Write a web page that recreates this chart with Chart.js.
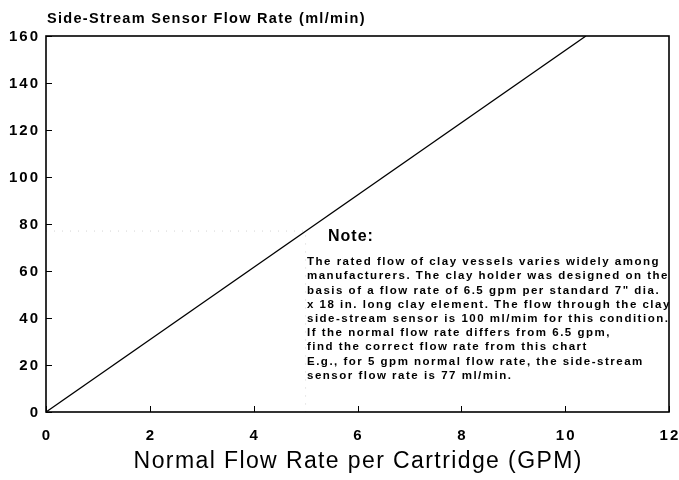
<!DOCTYPE html>
<html>
<head>
<meta charset="utf-8">
<script src="https://cdn.jsdelivr.net/npm/chart.js@4"></script>
<style>
  html, body { margin: 0; padding: 0; background: #fff; }
  #wrap { width: 679px; height: 480px; }
</style>
</head>
<body>
<div id="wrap"><canvas id="chart" width="679" height="480"></canvas></div>
<script>
// flow rate line (gpm -> ml/min)
const gpm = [0, 10.4];
const sensorFlow = [0, 160];
// faint guide for the 5 gpm example
const guideX = [0, 5, 5];
const guideY = [77, 77, 0];
const xTicks = [0, 2, 4, 6, 8, 10, 12];
const yTicks = [0, 20, 40, 60, 80, 100, 120, 140, 160];

const yTitle = 'Side-Stream Sensor Flow Rate (ml/min)';
const xTitle = 'Normal Flow Rate per Cartridge (GPM)';
const noteHead = 'Note:';
const noteLines = [
  'The rated flow of clay vessels varies widely among',
  'manufacturers. The clay holder was designed on the',
  'basis of a flow rate of 6.5 gpm per standard 7" dia.',
  'x 18 in. long clay element. The flow through the clay',
  'side-stream sensor is 100 ml/mim for this condition.',
  'If the normal flow rate differs from 6.5 gpm,',
  'find the correct flow rate from this chart',
  'E.g., for 5 gpm normal flow rate, the side-stream',
  'sensor flow rate is 77 ml/min.'
];

const FONT = '"Liberation Sans", Arial, Helvetica, sans-serif';

// draws text with letter spacing; right/center aware
function spaced(ctx, text, x, y, sp, align) {
  ctx.letterSpacing = sp + 'px';
  const w = ctx.measureText(text).width - sp;
  let x0 = x;
  if (align === 'right') x0 = x - w;
  else if (align === 'center') x0 = x - w / 2;
  ctx.textAlign = 'left';
  ctx.fillText(text, x0, y);
}

// frame, inward ticks, labels and text
const decor = {
  id: 'decor',
  afterDraw(chart) {
    const { ctx, chartArea: a, scales } = chart;
    ctx.save();
    ctx.strokeStyle = '#000';
    ctx.lineWidth = 1.6;
    ctx.strokeRect(a.left, a.top, a.right - a.left, a.bottom - a.top);
    ctx.lineWidth = 1;
    ctx.beginPath();
    xTicks.forEach(v => {
      const px = Math.round(scales.x.getPixelForValue(v)) + 0.5;
      ctx.moveTo(px, a.bottom);
      ctx.lineTo(px, a.bottom - 6);
    });
    yTicks.forEach(v => {
      const py = Math.round(scales.y.getPixelForValue(v)) + 0.5;
      ctx.moveTo(a.left, py);
      ctx.lineTo(a.left + 6, py);
    });
    ctx.stroke();

    ctx.fillStyle = '#000';
    ctx.textBaseline = 'middle';

    ctx.font = 'bold 15px ' + FONT;
    yTicks.forEach(v => {
      spaced(ctx, String(v), a.left - 8, scales.y.getPixelForValue(v) + 1, 2, 'right');
    });
    xTicks.forEach(v => {
      spaced(ctx, String(v), scales.x.getPixelForValue(v), a.bottom + 24, 2.2, 'center');
    });

    ctx.font = 'bold 14.5px ' + FONT;
    spaced(ctx, yTitle, a.left + 1, 19, 1.3, 'left');

    ctx.font = '23px ' + FONT;
    spaced(ctx, xTitle, (a.left + a.right) / 2, a.bottom + 50, 1.4, 'center');

    ctx.font = 'bold 16px ' + FONT;
    spaced(ctx, noteHead, 328, 237, 1, 'left');

    ctx.font = 'bold 11.5px ' + FONT;
    noteLines.forEach((t, i) => {
      spaced(ctx, t, 307, 262 + i * 14.2, 1.5, 'left');
    });
    ctx.restore();
  }
};

new Chart(document.getElementById('chart'), {
  type: 'scatter',
  data: {
    datasets: [
      {
        data: gpm.map((x, i) => ({ x, y: sensorFlow[i] })),
        showLine: true,
        borderColor: '#000',
        borderWidth: 1.3,
        pointRadius: 0
      },
      {
        data: guideX.map((x, i) => ({ x, y: guideY[i] })),
        showLine: true,
        borderColor: '#d4d4d4',
        borderWidth: 1,
        borderDash: [1, 7],
        pointRadius: 0
      }
    ]
  },
  options: {
    responsive: false,
    animation: false,
    layout: { padding: { top: 36, right: 10, left: 0, bottom: 0 } },
    plugins: {
      legend: { display: false },
      tooltip: { enabled: false }
    },
    scales: {
      x: {
        type: 'linear',
        min: 0,
        max: 12,
        afterBuildTicks: s => { s.ticks = xTicks.map(v => ({ value: v })); },
        afterFit: s => { s.height = 68; s.paddingLeft = 0; s.paddingRight = 0; },
        grid: { display: false, drawTicks: false },
        border: { display: false },
        ticks: { display: false }
      },
      y: {
        type: 'linear',
        min: 0,
        max: 160,
        afterBuildTicks: s => { s.ticks = yTicks.map(v => ({ value: v })); },
        afterFit: s => { s.width = 46; s.paddingTop = 0; s.paddingBottom = 0; },
        grid: { display: false, drawTicks: false },
        border: { display: false },
        ticks: { display: false }
      }
    }
  },
  plugins: [decor]
});
</script>
</body>
</html>
